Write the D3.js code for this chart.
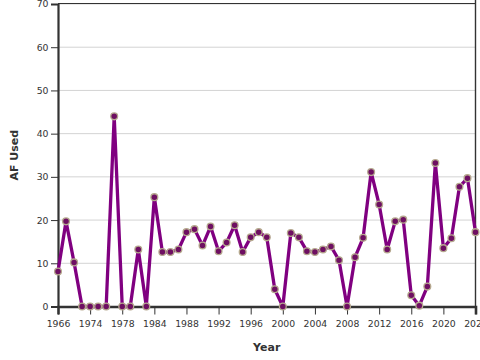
<!DOCTYPE html>
<html><head><meta charset="utf-8">
<script src="https://cdn.jsdelivr.net/npm/d3@7"></script>
<style>body{margin:0;background:#fff;}svg{display:block;}</style>
</head><body>
<svg id="chart" width="480" height="360"></svg>
<script>
const years = ["1966","1968","1970","1972","1974","1975","1976","1977","1978","1980","1981","1982","1984",
  "1985","1986","1987","1988","1989","1990","1991","1992","1993","1994","1995","1996","1997","1998","1999",
  "2000","2001","2002","2003","2004","2005","2006","2007","2008","2009","2010","2011","2012","2013","2014",
  "2015","2016","2017","2018","2019","2020","2021","2022","2023","2024"];
const afUsed = [8.1,19.7,10.2,0,0,0,0,44,0,0,13.2,0,25.3,
  12.6,12.6,13.2,17.2,17.9,14.1,18.5,12.8,14.8,18.8,12.6,16.0,17.2,16.0,4.0,
  0,17.0,16.0,12.8,12.6,13.2,13.9,10.7,0,11.4,15.9,31.1,23.6,13.2,19.7,
  20.1,2.6,0.2,4.6,33.2,13.5,15.8,27.7,29.7,17.2];
const yTicks = [0,10,20,30,40,50,60,70];
const xTickLabels = ["1966","1974","1978","1984","1988","1992","1996","2000","2004","2008","2012","2016","2020","2024"];

const L = 58, R = 475.5, T = 4, B = 306.5;
const svg = d3.select("#chart");
const x = d3.scalePoint().domain(years).range([L, R]);
const y = d3.scaleLinear().domain([0, 70]).range([B, T]);
const font = "DejaVu Sans, sans-serif";

// gridlines
svg.append("g").selectAll("line").data(yTicks.filter(d => d > 0)).join("line")
  .attr("x1", L).attr("x2", R).attr("y1", d => y(d)).attr("y2", d => y(d))
  .attr("stroke", "#d3d3d3").attr("stroke-width", 1);

// frame top/right
svg.append("line").attr("x1", L).attr("x2", R).attr("y1", T - 0.5).attr("y2", T - 0.5)
  .attr("stroke", "#333").attr("stroke-width", 1.2);
svg.append("line").attr("x1", R).attr("x2", R).attr("y1", 0).attr("y2", B)
  .attr("stroke", "#333").attr("stroke-width", 1.4);

// y axis
const yAxis = svg.append("g").attr("transform", `translate(${L},0)`)
  .call(d3.axisLeft(y).tickValues(yTicks).tickSize(7).tickPadding(2.5).tickFormat(d3.format("d")));
yAxis.select(".domain").attr("stroke", "#333").attr("stroke-width", 2.2);
yAxis.selectAll(".tick line").attr("stroke", "#333").attr("stroke-width", 1);
yAxis.selectAll("text").attr("font-family", font).attr("font-size", "9.3px").attr("fill", "#333");

// x axis
const xAxis = svg.append("g").attr("transform", `translate(0,${B})`)
  .call(d3.axisBottom(x).tickValues(xTickLabels).tickSize(8).tickPadding(6));
xAxis.select(".domain").attr("stroke", "#333").attr("stroke-width", 2.6);
xAxis.selectAll(".tick line").attr("stroke", "#333").attr("stroke-width", 1);
xAxis.selectAll("text").attr("font-family", font).attr("font-size", "9.3px").attr("fill", "#333");

// line
const line = d3.line().x((d, i) => x(years[i])).y(d => y(d));
svg.append("path").datum(afUsed).attr("d", line)
  .attr("fill", "none").attr("stroke", "#800080").attr("stroke-width", 3.3)
  .attr("stroke-linejoin", "round").attr("stroke-linecap", "round");

// markers
svg.append("g").selectAll("circle").data(afUsed).join("circle")
  .attr("cx", (d, i) => x(years[i])).attr("cy", d => y(d)).attr("r", 3.4)
  .attr("fill", "#6e0f62").attr("stroke", "#b5a88e").attr("stroke-width", 1.3);

// axis labels
svg.append("text").attr("x", (L + R) / 2).attr("y", 351).attr("text-anchor", "middle")
  .attr("font-family", font).attr("font-weight", "bold").attr("font-size", "11px").attr("fill", "#333")
  .text("Year");
svg.append("text").attr("transform", `translate(17.5,${(T + B) / 2}) rotate(-90)`).attr("text-anchor", "middle")
  .attr("font-family", font).attr("font-weight", "bold").attr("font-size", "11px").attr("fill", "#333")
  .text("AF Used");
</script>
</body></html>
